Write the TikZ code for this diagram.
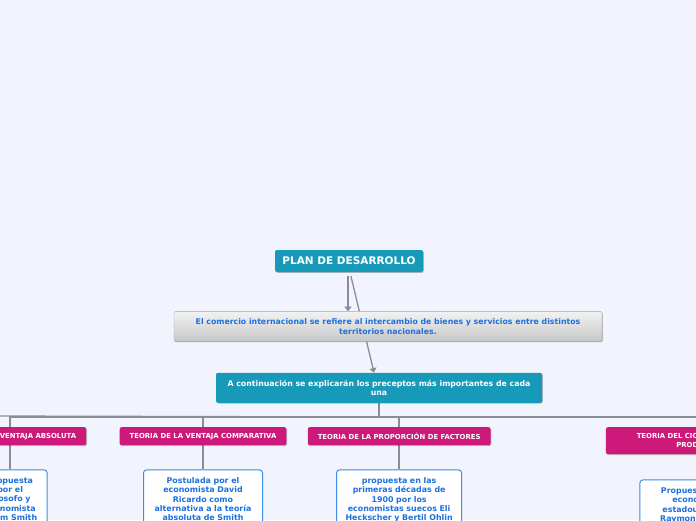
\documentclass[tikz,border=0pt]{standalone}
\usepackage{fontspec}
\setmainfont{DejaVu Sans}
\usetikzlibrary{arrows.meta, positioning, shadows, backgrounds}

\definecolor{canvasbg}{RGB}{242,244,253}
\definecolor{tealbox}{RGB}{23,154,186}
\definecolor{magentabox}{RGB}{205,25,122}
\definecolor{bluetext}{RGB}{30,112,220}
\definecolor{blueline}{RGB}{62,140,228}
\definecolor{linkgray}{RGB}{140,140,150}

\begin{document}
\begin{tikzpicture}[
    x=1pt, y=-1pt,
    softshadow/.style={drop shadow={shadow xshift=0.8pt, shadow yshift=-0.8pt, opacity=0.25, fill=black}},
    mainbox/.style={rectangle, fill=tealbox, text=white, rounded corners=2pt, align=center, inner sep=0pt, font=\bfseries\fontsize{7.8}{9.3}\selectfont, softshadow},
    introbox/.style={rectangle, draw=gray!70, top color=white!95!black, bottom color=black!22, text=bluetext, rounded corners=2pt, align=center, inner sep=0pt, minimum width=428pt, minimum height=30pt, font=\bfseries\fontsize{7.8}{10}\selectfont, softshadow},
    theory/.style={rectangle, fill=magentabox, text=white, rounded corners=2pt, align=center, inner xsep=10pt, inner ysep=0pt, minimum height=18pt, font=\bfseries\fontsize{6.9}{9}\selectfont, softshadow},
    detail/.style={rectangle, draw=blueline, line width=1pt, fill=white, text=bluetext, rounded corners=3pt, align=center, inner xsep=6pt, inner ysep=7.5pt, font=\bfseries\fontsize{7.9}{9.3}\selectfont},
    link/.style={draw=linkgray, line width=1.3pt},
    arrow/.style={link, -{Triangle[width=7pt, length=4.5pt]}, shorten <=4pt}
]
\useasboundingbox (0,0) rectangle (696,520);

% Central topic
\node[mainbox, minimum width=148pt, minimum height=22pt, font=\bfseries\fontsize{10.5}{12}\selectfont] (root) at (349,261) {PLAN DE DESARROLLO};

% Introduction and overview
\node[introbox, below=39pt of root, xshift=39pt] (intro) {El comercio internacional se refiere al intercambio de bienes y servicios entre distintos\\territorios nacionales.};
\node[mainbox, minimum width=326pt, minimum height=30pt, below=31pt of intro, xshift=-9pt] (precepts) {A continuación se explicarán los preceptos más importantes de cada\\una};

% Theories
\node[theory, below=24pt of precepts, xshift=-176pt] (comparativa) {TEORIA DE LA VENTAJA COMPARATIVA};
\node[theory, left=33pt of comparativa] (absoluta) {TEORIA DE LA VENTAJA ABSOLUTA};
\node[theory, right=21pt of comparativa] (proporcion) {TEORIA DE LA PROPORCIÓN DE FACTORES};
\node[theory, minimum width=184pt, minimum height=27pt, right=115pt of proporcion.north east, anchor=north west] (ciclo) {TEORIA DEL CICLO DE VIDA DEL\\PRODUCTO};

% Authors of each theory
\node[detail, text width=62pt, below=24pt of absoluta] (absolutatxt) {Propuesta\\por el\\filosofo y\\economista\\Adam Smith};
\node[detail, text width=107pt, below=24pt of comparativa] (comparativatxt) {Postulada por el\\economista David\\Ricardo como\\alternativa a la teoría\\absoluta de Smith};
\node[detail, text width=113pt, below=24pt of proporcion] (proporciontxt) {propuesta en las\\primeras décadas de\\1900 por los\\economistas suecos Eli\\Heckscher y Bertil Ohlin};
\node[detail, text width=104pt, below=25pt of ciclo] (ciclotxt) {Propuesta por el\\economista\\estadounidense\\Raymond Vernon};

\coordinate (busleft) at (-10,416);

% Connectors behind the boxes
\begin{scope}[on background layer]
    \fill[canvasbg] (0,0) rectangle (696,520);
    \draw[arrow] ([xshift=-1pt]root.south) -- ([xshift=-1pt]root.south |- intro.north);
    \draw[arrow] ([xshift=1pt]root.south) -- ([xshift=-5pt]precepts.north);
    \draw[link] (precepts.south) -- ++(0,14) -- (busleft);
    \foreach \t in {absoluta, comparativa, proporcion, ciclo} {
        \draw[link] (precepts.south) -- ++(0,14) -| (\t.north);
        \draw[link] (\t.south) -- (\t txt.north);
    }
\end{scope}

\end{tikzpicture}
\end{document}
